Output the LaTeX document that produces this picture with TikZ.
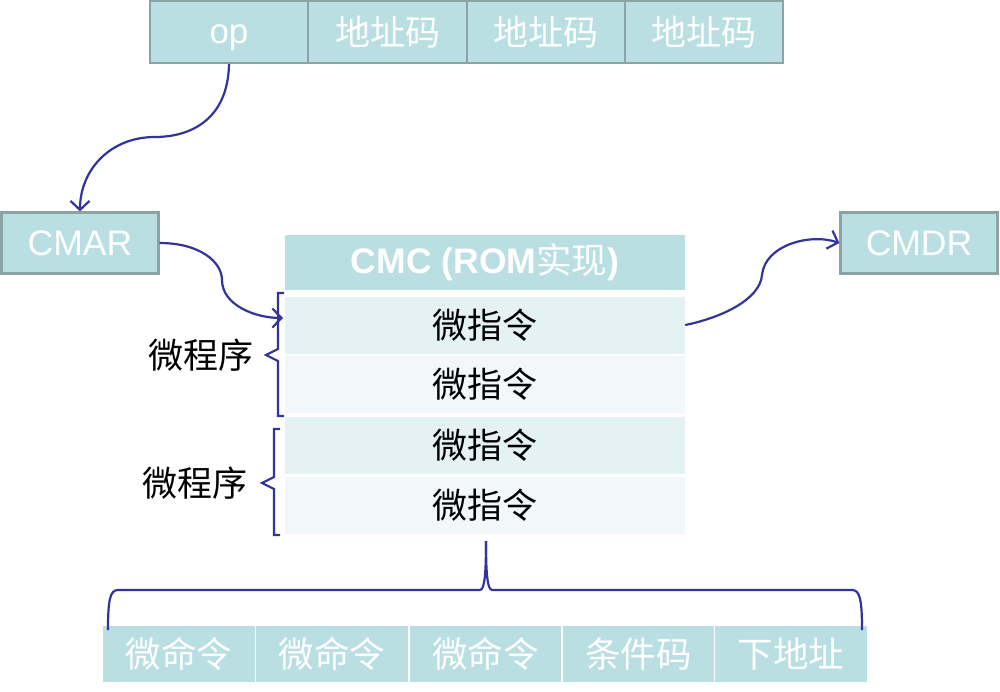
\documentclass[tikz,border=0pt]{standalone}
\usepackage{fontspec}
\setmainfont{Liberation Sans}
\newfontfamily\cjk{Noto Sans CJK SC}
\usetikzlibrary{arrows.meta}
\definecolor{cellc}{HTML}{B9DFE2}
\definecolor{edgec}{HTML}{8AA3A5}
\definecolor{rowa}{HTML}{E5F2F4}
\definecolor{rowb}{HTML}{F2F8FA}
\definecolor{linec}{HTML}{333399}
\begin{document}
\begin{tikzpicture}[x=1pt,y=-1pt,
  topcell/.style={draw=edgec,line width=1.8pt,fill=cellc,text=white,minimum width=158pt,minimum height=62pt,inner sep=0pt,font=\cjk\fontsize{35}{35}\selectfont},
  regbox/.style={draw=edgec,line width=2.2pt,fill=cellc,text=white,minimum width=157pt,minimum height=61pt,inner sep=0pt,font=\fontsize{35.5}{35.5}\selectfont},
  microrow/.style={fill=#1,text=black,minimum width=400pt,minimum height=57pt,inner sep=0pt,font=\cjk\fontsize{35}{35}\selectfont},
  botcell/.style={draw=white,line width=1.5pt,fill=cellc,text=white,minimum width=153pt,minimum height=58pt,inner sep=0pt,font=\cjk\fontsize{35.5}{35.5}\selectfont},
  lbl/.style={text=black,inner sep=0pt,font=\cjk\fontsize{35}{35}\selectfont},
  conn/.style={draw=linec,line width=2.2pt,-{Straight Barb[length=9pt,width=19pt]}},
  brc/.style={draw=linec,line width=2.2pt}]
\useasboundingbox (0,0) rectangle (1000,691);
% top instruction format
\node[topcell] (op) at (229,32) {};
\node[text=white,inner sep=0pt,text depth=0pt,font=\fontsize{35}{35}\selectfont] (optxt) at (229,34) {op};
\node[topcell] (a1) at (387.5,32) {地址码};
\node[topcell] (a2) at (546,32) {地址码};
\node[topcell] (a3) at (704,32) {地址码};
% registers
\node[regbox] (cmar) at (80,243) {CMAR};
\node[regbox] (cmdr) at (919,243) {CMDR};
% CMC
\node[fill=cellc,text=white,minimum width=400pt,minimum height=55pt,inner sep=0pt,font=\bfseries\fontsize{35.5}{35.5}\selectfont] (cmc) at (485,262.5) {CMC (ROM{\cjk\mdseries 实现})};
\node[microrow=rowa] (m1) at (485,325) {微指令};
\node[microrow=rowb] (m2) at (485,384.5) {微指令};
\node[microrow=rowa] (m3) at (485,445) {微指令};
\node[microrow=rowb] (m4) at (485,505.5) {微指令};
% left braces
\coordinate (b1t) at (284,293);
\coordinate (b1b) at (284,416);
\coordinate (b2t) at (280,429);
\coordinate (b2b) at (280,535);
\draw[brc] (b1t) -- ++(-6,0) -- ++(0,56) -- ++(-12,6) -- ++(12,6) -- (278,416) -- (b1b);
\draw[brc] (b2t) -- ++(-6,0) -- ++(0,48) -- ++(-12,6) -- ++(12,6) -- (274,535) -- (b2b);
\node[lbl] (p1) at (201,355) {微程序};
\node[lbl] (p2) at (195,483) {微程序};
% bottom micro-instruction format
\node[botcell] (c1) at (179,654) {微命令};
\node[botcell] (c2) at (332,654) {微命令};
\node[botcell] (c3) at (485.5,654) {微命令};
\node[botcell] (c4) at (638.5,654) {条件码};
\node[botcell] (c5) at (791,654) {下地址};
% bottom brace
\coordinate (bl) at (108,630);
\coordinate (br) at (862,630);
\coordinate (bt) at (486,541);
\draw[brc] (bl) .. controls (108,600) and (110,590) .. (118,590) -- (480,590)
  .. controls (485,590) and (486,570) .. (bt);
\draw[brc] (br) .. controls (862,600) and (860,590) .. (852,590) -- (492,590)
  .. controls (487,590) and (486,570) .. (bt);
% connectors
\draw[conn] (op.south) .. controls (228,120) and (190,137) .. (155,137)
  .. controls (110,137) and (80,170) .. (cmar.north);
\draw[conn] (cmar.east) .. controls (200,243) and (222,262) .. (222,280)
  .. controls (222,305) and (255,318) .. (283,318);
\draw[conn] (m1.east) .. controls (720,318) and (760,300) .. (762,275)
  .. controls (765,245) and (810,233) .. (cmdr.west);
\end{tikzpicture}
\end{document}
